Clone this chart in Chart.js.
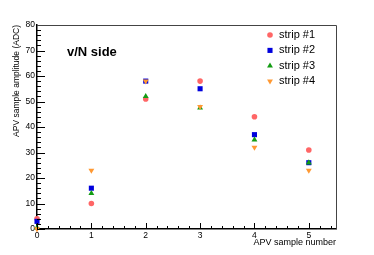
<!DOCTYPE html>
<html>
<head>
<meta charset="utf-8">
<script src="https://cdn.jsdelivr.net/npm/chart.js@4/dist/chart.umd.min.js"></script>
<style>
  html, body { margin: 0; padding: 0; background: #fff; }
</style>
</head>
<body>
<canvas id="apv" width="374" height="255"></canvas>
<script>
// data
const samples = [0, 1, 2, 3, 4, 5];
const strip1 = [4, 10, 51, 58, 44, 31];
const strip2 = [3, 16, 58, 55, 37, 26];
const strip3 = [0.5, 14, 52, 47.5, 35, 26];
const strip4 = [0, 23, 58, 48, 32, 23];
const stripNames = ['strip #1', 'strip #2', 'strip #3', 'strip #4'];
const xTicks = [0, 1, 2, 3, 4, 5];
const yTicks = [0, 10, 20, 30, 40, 50, 60, 70, 80];

const font = 'Liberation Sans, Arial, Helvetica, sans-serif';

function pts(vals) {
    return samples.map((s, i) => ({ x: s, y: vals[i] }));
}

// ROOT style ticks drawn inside the frame + top/right frame lines
const frameTicks = {
    id: 'frameTicks',
    afterDatasetsDraw(chart) {
        const ctx = chart.ctx;
        const a = chart.chartArea;
        const xs = chart.scales.x, ys = chart.scales.y;
        ctx.save();
        ctx.strokeStyle = '#000';
        ctx.lineWidth = 1;
        ctx.beginPath();
        for (let v = 0; v <= 80.001; v += 2) {
            const py = Math.round(ys.getPixelForValue(v)) + 0.5;
            const len = (Math.abs(v % 10) < 0.001) ? 8 : 4;
            ctx.moveTo(a.left, py);
            ctx.lineTo(a.left + len, py);
        }
        for (let v = 0; v <= 5.5001; v += 0.2) {
            const px = Math.round(xs.getPixelForValue(v)) + 0.5;
            const r = Math.abs(v - Math.round(v)) < 0.001;
            const len = r ? 6 : 3;
            ctx.moveTo(px, a.bottom);
            ctx.lineTo(px, a.bottom - len);
        }
        ctx.stroke();
        ctx.strokeStyle = '#444';
        ctx.beginPath();
        ctx.moveTo(a.left, a.top + 0.5);
        ctx.lineTo(a.right + 0.5, a.top + 0.5);
        ctx.lineTo(a.right + 0.5, a.bottom);
        ctx.stroke();
        ctx.restore();
    }
};

// legend + label inside the frame
const insideText = {
    id: 'insideText',
    afterDraw(chart) {
        const ctx = chart.ctx;
        const a = chart.chartArea;
        ctx.save();
        ctx.fillStyle = '#000';
        ctx.font = 'bold 13px ' + font;
        ctx.textBaseline = 'middle';
        ctx.textAlign = 'left';
        ctx.fillText('v/N side', a.left + 30, a.top + 27);

        ctx.font = '11px ' + font;
        chart.data.datasets.forEach((ds, i) => {
            const y = a.top + 10 + i * 15.4;
            const mx = a.right - 66;
            ctx.fillStyle = ds.backgroundColor;
            ctx.strokeStyle = ds.borderColor;
            Chart.helpers.drawPoint(ctx, {
                pointStyle: ds.pointStyle,
                rotation: ds.rotation || 0,
                radius: ds.pointRadius,
                borderWidth: 0
            }, mx, y);
            ctx.fillStyle = '#000';
            ctx.fillText(ds.label, mx + 9, y);
        });
        ctx.restore();
    }
};

const datasets = [
    { label: stripNames[0], data: pts(strip1), pointStyle: 'circle', pointRadius: 2.8, order: 3,
      backgroundColor: '#ff6666', borderColor: '#ff6666' },
    { label: stripNames[1], data: pts(strip2), pointStyle: 'rect', pointRadius: 3.6, order: 2,
      backgroundColor: '#0000dd', borderColor: '#0000dd' },
    { label: stripNames[2], data: pts(strip3), pointStyle: 'triangle', pointRadius: 3.4, order: 1,
      backgroundColor: '#139c13', borderColor: '#139c13' },
    { label: stripNames[3], data: pts(strip4), pointStyle: 'triangle', rotation: 180, pointRadius: 3.4, order: 0,
      backgroundColor: '#ff9933', borderColor: '#ff9933' }
];
datasets.forEach(d => { d.pointBorderWidth = 0; d.clip = false; d.showLine = false; });

new Chart(document.getElementById('apv'), {
    type: 'scatter',
    data: { datasets: datasets },
    options: {
        responsive: false,
        animation: false,
        devicePixelRatio: 1,
        layout: { padding: { top: 25, right: 38, left: 0, bottom: 0 } },
        plugins: { legend: { display: false }, tooltip: { enabled: false } },
        scales: {
            x: {
                type: 'linear', min: 0, max: 5.5,
                afterBuildTicks: s => { s.ticks = xTicks.map(v => ({ value: v })); },
                afterFit: s => { s.height = 26; },
                grid: { display: false, drawTicks: false },
                border: { display: true, color: '#000', width: 1.5 },
                ticks: { color: '#000', padding: 2, maxRotation: 0, font: { family: font, size: 8.5 } },
                title: { display: true, text: 'APV sample number', align: 'end', color: '#000',
                         font: { family: font, size: 9 }, padding: { top: 0, bottom: 7 } }
            },
            y: {
                type: 'linear', min: 0, max: 80,
                afterBuildTicks: s => { s.ticks = yTicks.map(v => ({ value: v })); },
                afterFit: s => { s.width = 37; },
                grid: { display: false, drawTicks: false },
                border: { display: true, color: '#000', width: 1.5 },
                ticks: { color: '#000', padding: 2, font: { family: font, size: 8.5 } },
                title: { display: true, text: 'APV sample amplitude (ADC)', align: 'end', color: '#000',
                         font: { family: font, size: 8.5 }, padding: { top: 12, bottom: 0 } }
            }
        }
    },
    plugins: [frameTicks, insideText]
});
</script>
</body>
</html>
